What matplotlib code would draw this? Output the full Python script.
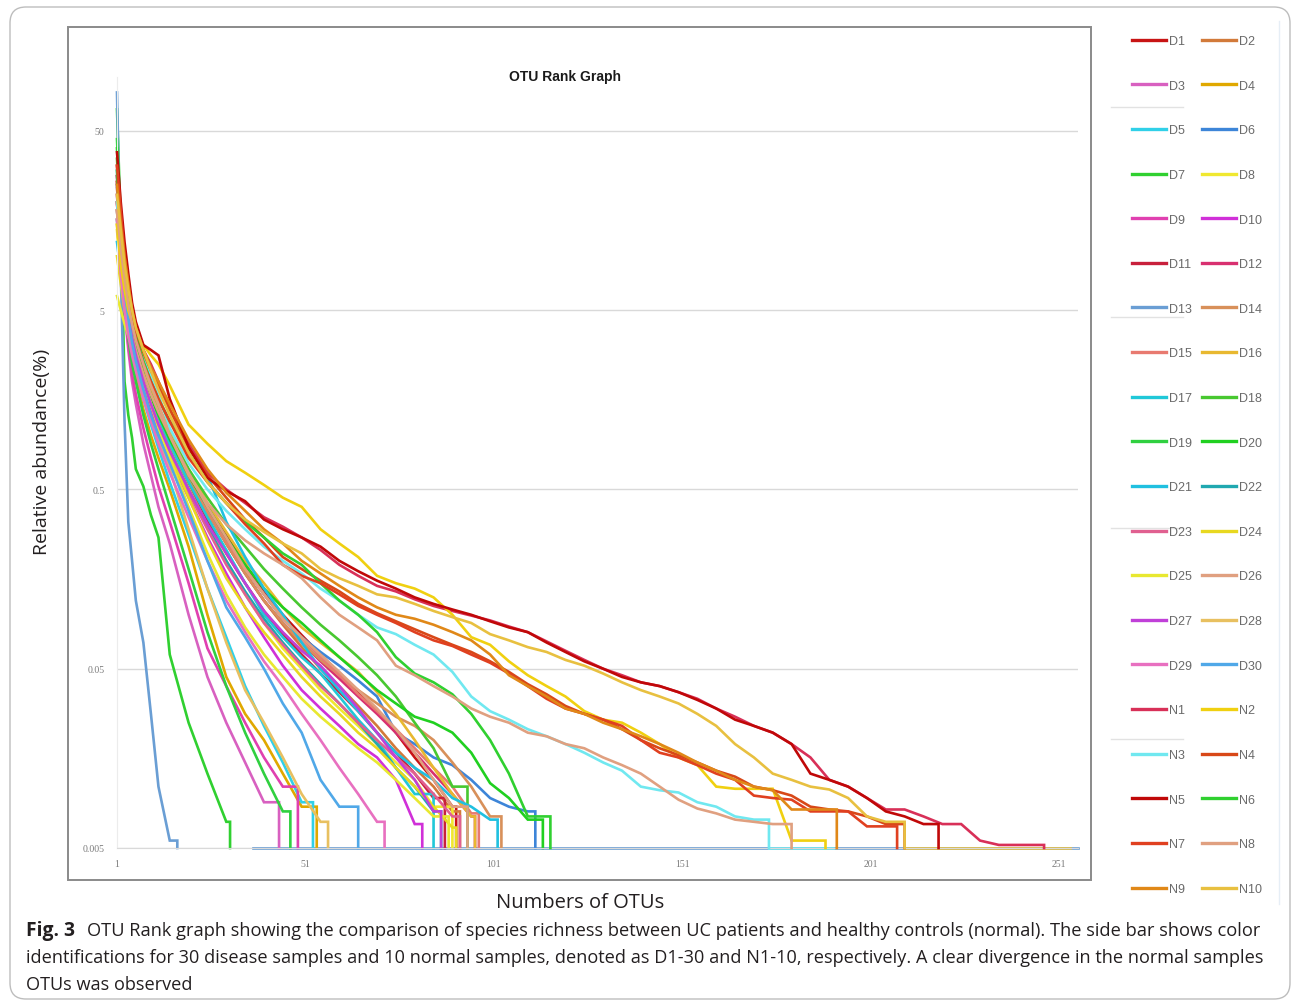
import matplotlib
matplotlib.use("Agg")
import matplotlib.pyplot as plt
from matplotlib.patches import FancyBboxPatch, Rectangle
from matplotlib.lines import Line2D

W, H = 1292, 1004

# OTU rank positions at which abundances were read
RANKS = [1, 2, 3, 4, 5, 6, 8, 10, 12, 15] + list(range(20, 256, 5))
FLOOR = 0.005

# ---- relative abundance (%) per sample, read at RANKS ----
D1 = [32, 15, 9, 6, 4.5, 3.6, 2.5, 1.9, 1.45, 1.05, 0.63, 0.41, 0.28, 0.19, 0.135, 0.1, 0.077, 0.06, 0.047, 0.037, 0.029, 0.022, 0.016, 0.012, 0.0085]
D2 = [28, 13, 8, 5.5, 4.2, 3.4, 2.4, 1.8, 1.4, 1.0, 0.6, 0.38, 0.25, 0.17, 0.12, 0.088, 0.066, 0.05, 0.04, 0.031, 0.024, 0.018, 0.014, 0.011, 0.008]
D3 = [25, 10, 5, 3, 2, 1.5, 0.9, 0.6, 0.4, 0.25, 0.1, 0.045, 0.025, 0.015, 0.009]
D4 = [15, 8, 5, 3.5, 2.6, 2.1, 1.4, 1.0, 0.75, 0.5, 0.24, 0.1, 0.045, 0.028, 0.02, 0.013, 0.0085]
D5 = [30, 12, 6, 4, 3, 2.4, 1.6, 1.15, 0.85, 0.55, 0.28, 0.14, 0.075, 0.04, 0.024, 0.015, 0.009]
D6 = [18, 10, 6.5, 4.8, 3.8, 3.1, 2.2, 1.7, 1.3, 0.95, 0.58, 0.38, 0.26, 0.18, 0.13, 0.095, 0.075, 0.062, 0.052, 0.043, 0.035, 0.022, 0.019, 0.016, 0.0145, 0.012, 0.0095, 0.0085, 0.008]
D7 = [66, 15, 2, 1.3, 0.97, 0.65, 0.52, 0.36, 0.27, 0.06, 0.025, 0.013, 0.007]
D8 = [14, 8, 5.5, 4, 3.2, 2.7, 2.0, 1.5, 1.2, 0.85, 0.52, 0.32, 0.2, 0.13, 0.09, 0.065, 0.05, 0.038, 0.03, 0.024, 0.019, 0.015, 0.012, 0.0085]
D9 = [20, 9, 5, 3.2, 2.2, 1.7, 1.1, 0.75, 0.52, 0.33, 0.15, 0.065, 0.04, 0.025, 0.016, 0.011]
D10 = [20, 10, 6, 4.2, 3.2, 2.6, 1.8, 1.35, 1.05, 0.75, 0.45, 0.27, 0.17, 0.11, 0.075, 0.052, 0.038, 0.03, 0.024, 0.019, 0.016, 0.012, 0.0068]
D11 = [26, 12, 7.5, 5.2, 4, 3.2, 2.3, 1.7, 1.3, 0.92, 0.55, 0.34, 0.22, 0.15, 0.105, 0.078, 0.06, 0.047, 0.037, 0.029, 0.022, 0.017, 0.013, 0.0095]
D12 = [20, 10, 6.5, 4.7, 3.7, 3.0, 2.2, 1.65, 1.3, 0.95, 0.58, 0.37, 0.25, 0.17, 0.12, 0.09, 0.07, 0.055, 0.044, 0.035, 0.028, 0.022, 0.017, 0.013, 0.01, 0.0075]
D13 = [82, 8, 1.2, 0.33, 0.2, 0.12, 0.07, 0.028, 0.011, 0.0055]
D14 = [22, 12, 7.5, 5.3, 4.1, 3.3, 2.3, 1.75, 1.35, 0.95, 0.58, 0.37, 0.25, 0.17, 0.12, 0.09, 0.07, 0.056, 0.046, 0.038, 0.032, 0.027, 0.024, 0.02, 0.015, 0.011, 0.0075]
D15 = [24, 11, 7, 5, 3.9, 3.2, 2.3, 1.75, 1.35, 0.98, 0.6, 0.39, 0.26, 0.18, 0.13, 0.096, 0.074, 0.058, 0.046, 0.036, 0.029, 0.023, 0.018, 0.014, 0.011, 0.0078]
D16 = [20, 11, 7, 5, 4, 3.3, 2.4, 1.85, 1.45, 1.05, 0.65, 0.42, 0.29, 0.2, 0.15, 0.11, 0.085, 0.07, 0.058, 0.048, 0.037, 0.028, 0.02, 0.014, 0.01, 0.0075]
D17 = [28, 12, 7, 5, 3.8, 3.0, 2.1, 1.6, 1.25, 0.9, 0.55, 0.35, 0.23, 0.15, 0.1, 0.075, 0.058, 0.047, 0.035, 0.026, 0.02, 0.014, 0.01]
D18 = [35, 14, 7.5, 5, 3.8, 3.1, 2.2, 1.7, 1.35, 1.0, 0.65, 0.45, 0.32, 0.24, 0.18, 0.14, 0.11, 0.088, 0.072, 0.058, 0.046, 0.035, 0.025, 0.018, 0.011]
D19 = [45, 15, 6, 3.5, 2.5, 2.0, 1.3, 0.9, 0.65, 0.4, 0.18, 0.08, 0.04, 0.022, 0.013, 0.008]
D20 = [40, 16, 8, 5.2, 3.9, 3.1, 2.2, 1.65, 1.3, 0.95, 0.6, 0.4, 0.27, 0.19, 0.14, 0.11, 0.09, 0.072, 0.058, 0.047, 0.038, 0.032, 0.027, 0.025, 0.022, 0.017, 0.0115, 0.0095, 0.0072]
D21 = [12, 8, 6, 4.8, 4.0, 3.5, 2.7, 2.1, 1.6, 1.2, 0.9, 0.6, 0.33, 0.21, 0.14, 0.1, 0.07, 0.05, 0.038, 0.029, 0.022, 0.017, 0.014, 0.012, 0.0095, 0.0085, 0.0072]
D22 = [16, 9, 6, 4.4, 3.4, 2.8, 2.0, 1.5, 1.15, 0.83, 0.5, 0.31, 0.2, 0.135, 0.095, 0.07, 0.053, 0.041, 0.032, 0.025, 0.019, 0.014, 0.011, 0.008]
D23 = [18, 9, 6, 4.3, 3.4, 2.8, 2.0, 1.5, 1.15, 0.82, 0.48, 0.3, 0.19, 0.13, 0.09, 0.068, 0.052, 0.04, 0.032, 0.025, 0.02, 0.016, 0.013, 0.01, 0.0075]
D24 = [10, 7, 5, 4, 3.3, 2.8, 2.0, 1.5, 1.15, 0.8, 0.45, 0.26, 0.16, 0.11, 0.08, 0.06, 0.045, 0.035, 0.028, 0.022, 0.018, 0.014, 0.011, 0.0085, 0.0065]
D25 = [6, 5, 4.2, 3.6, 3.1, 2.7, 2.0, 1.5, 1.1, 0.75, 0.4, 0.22, 0.13, 0.085, 0.06, 0.045, 0.034, 0.027, 0.022, 0.018, 0.015, 0.012, 0.0095, 0.0075]
D26 = [16, 9, 6, 4.5, 3.6, 3.0, 2.2, 1.7, 1.35, 1.0, 0.62, 0.4, 0.27, 0.18, 0.13, 0.095, 0.075, 0.06, 0.048, 0.038, 0.03, 0.023, 0.017, 0.012, 0.0085]
D27 = [22, 10, 6.5, 4.6, 3.5, 2.8, 2.0, 1.5, 1.15, 0.82, 0.5, 0.32, 0.22, 0.15, 0.105, 0.08, 0.063, 0.052, 0.04, 0.03, 0.022, 0.016, 0.012, 0.008]
D28 = [18, 9, 5.5, 4, 3, 2.5, 1.7, 1.25, 0.95, 0.65, 0.3, 0.14, 0.07, 0.038, 0.025, 0.016, 0.01, 0.007]
D29 = [16, 8, 5, 3.6, 2.8, 2.3, 1.6, 1.2, 0.9, 0.62, 0.35, 0.2, 0.12, 0.08, 0.055, 0.04, 0.028, 0.02, 0.014, 0.01, 0.007]
D30 = [25, 11, 6.5, 4.5, 3.3, 2.6, 1.8, 1.3, 1.0, 0.7, 0.38, 0.2, 0.11, 0.075, 0.05, 0.032, 0.022, 0.012, 0.0085]
N1 = [28, 16, 10, 7, 5, 4, 3.0, 2.5, 2.0, 1.4, 0.9, 0.62, 0.5, 0.42, 0.35, 0.31, 0.27, 0.23, 0.19, 0.165, 0.145, 0.135, 0.122, 0.112, 0.105, 0.099, 0.093, 0.086, 0.08, 0.071, 0.063, 0.056, 0.05, 0.046, 0.042, 0.04, 0.037, 0.034, 0.03, 0.027, 0.024, 0.022, 0.019, 0.016, 0.012, 0.011, 0.0095, 0.0082, 0.0082, 0.0075, 0.0068, 0.0068, 0.0055, 0.0052, 0.0052, 0.0052]
N2 = [15, 9, 6.5, 5, 4.3, 3.8, 3.2, 2.8, 2.5, 1.9, 1.15, 0.9, 0.72, 0.62, 0.53, 0.45, 0.4, 0.3, 0.25, 0.21, 0.165, 0.15, 0.14, 0.125, 0.1, 0.075, 0.068, 0.055, 0.046, 0.04, 0.035, 0.029, 0.026, 0.025, 0.022, 0.019, 0.016, 0.0145, 0.011, 0.0107, 0.0107, 0.0107, 0.0055, 0.0055]
N3 = [20, 13, 9, 6, 4.5, 3.8, 2.8, 2.2, 1.7, 1.1, 0.7, 0.5, 0.38, 0.3, 0.24, 0.2, 0.17, 0.14, 0.12, 0.1, 0.085, 0.078, 0.068, 0.06, 0.048, 0.035, 0.029, 0.026, 0.023, 0.021, 0.019, 0.017, 0.015, 0.0135, 0.011, 0.0105, 0.0102, 0.009, 0.0085, 0.0075, 0.0072]
N4 = [26, 15, 9, 6.5, 4.8, 3.8, 2.9, 2.3, 1.9, 1.4, 0.85, 0.6, 0.45, 0.34, 0.27, 0.21, 0.18, 0.155, 0.135, 0.115, 0.102, 0.092, 0.083, 0.075, 0.068, 0.062, 0.055, 0.048, 0.041, 0.036, 0.031, 0.028, 0.026, 0.023, 0.02, 0.018, 0.0165, 0.015, 0.0135, 0.0125, 0.011, 0.0105, 0.0098, 0.0085, 0.0082, 0.008, 0.0075, 0.0068]
N5 = [38, 20, 12, 8, 5.5, 4.3, 3.2, 3.0, 2.8, 1.6, 0.86, 0.58, 0.49, 0.43, 0.34, 0.3, 0.27, 0.24, 0.2, 0.175, 0.155, 0.14, 0.125, 0.115, 0.107, 0.1, 0.092, 0.085, 0.08, 0.07, 0.062, 0.055, 0.05, 0.045, 0.042, 0.04, 0.037, 0.0335, 0.03, 0.026, 0.024, 0.022, 0.019, 0.013, 0.012, 0.011, 0.0095, 0.008, 0.0075, 0.0068]
N6 = [30, 15, 9, 6, 4.5, 3.6, 2.6, 2.0, 1.6, 1.2, 0.8, 0.55, 0.42, 0.33, 0.27, 0.22, 0.19, 0.15, 0.12, 0.1, 0.08, 0.058, 0.047, 0.042, 0.036, 0.028, 0.02, 0.013, 0.0075, 0.0075]
N7 = [32, 18, 10, 7, 5, 3.5, 2.5, 2.0, 1.6, 1.2, 0.75, 0.55, 0.42, 0.32, 0.25, 0.19, 0.165, 0.15, 0.13, 0.112, 0.1, 0.09, 0.08, 0.072, 0.067, 0.06, 0.054, 0.047, 0.04, 0.034, 0.03, 0.028, 0.026, 0.024, 0.02, 0.017, 0.016, 0.0145, 0.013, 0.012, 0.0098, 0.0095, 0.0093, 0.008, 0.008, 0.008, 0.0066, 0.0066]
N8 = [18, 11, 7.5, 5.5, 4.2, 3.4, 2.5, 1.9, 1.5, 1.0, 0.6, 0.42, 0.32, 0.26, 0.22, 0.19, 0.16, 0.125, 0.1, 0.085, 0.072, 0.052, 0.046, 0.04, 0.035, 0.03, 0.027, 0.025, 0.022, 0.021, 0.019, 0.018, 0.016, 0.0145, 0.013, 0.011, 0.0093, 0.0083, 0.0078, 0.0072, 0.007, 0.0068]
N9 = [25, 15, 10, 7, 5, 4, 3, 2.4, 2, 1.5, 0.95, 0.65, 0.48, 0.38, 0.3, 0.25, 0.2, 0.17, 0.145, 0.125, 0.11, 0.1, 0.095, 0.088, 0.08, 0.072, 0.06, 0.046, 0.04, 0.035, 0.03, 0.028, 0.025, 0.023, 0.021, 0.019, 0.017, 0.015, 0.0135, 0.012, 0.011, 0.0105, 0.0082, 0.0082, 0.0082]
N10 = [22, 14, 9, 6.5, 5, 4, 3, 2.3, 1.8, 1.3, 0.8, 0.55, 0.42, 0.34, 0.29, 0.25, 0.22, 0.18, 0.16, 0.145, 0.13, 0.125, 0.115, 0.105, 0.097, 0.09, 0.078, 0.072, 0.066, 0.062, 0.056, 0.052, 0.047, 0.042, 0.038, 0.035, 0.032, 0.028, 0.024, 0.019, 0.016, 0.013, 0.012, 0.011, 0.0106, 0.0095, 0.0075, 0.007]

names = ["D%d" % i for i in range(1, 31)] + ["N%d" % i for i in range(1, 11)]
values = [D1, D2, D3, D4, D5, D6, D7, D8, D9, D10, D11, D12, D13, D14, D15,
          D16, D17, D18, D19, D20, D21, D22, D23, D24, D25, D26, D27, D28, D29, D30,
          N1, N2, N3, N4, N5, N6, N7, N8, N9, N10]
# rank at which each sample drops to the bottom of the axis
ends = [91, 92, 44, 54, 53, 112, 31, 90, 49, 82, 88, 96, 17, 103, 97,
        96, 85, 94, 47, 114, 102, 87, 92, 91, 89, 94, 87, 57, 72, 65,
        247, 189, 174, 210, 219, 116, 208, 180, 192, 210]
# samples running along the bottom of the axis (start rank, end rank)
floor_runs = {"D13": (37, 256), "N3": (174, 191), "N10": (210, 254)}

colors = ["#c81414", "#d27a3a", "#d860c0", "#e0a800", "#30d0e8", "#3d85d8",
          "#30d030", "#f0e830", "#e040b0", "#d030d8", "#c8203c", "#d83070",
          "#6a9ed4", "#d8905a", "#e87a70", "#e8b830", "#20c8d8", "#48c830",
          "#30d040", "#20d020", "#20c0e0", "#20a8b0", "#e06090", "#e8d820",
          "#e8e830", "#e0a080", "#c040d8", "#e8c060", "#e870c0", "#50a8e8",
          "#d83058", "#f0d010", "#70e8f0", "#d84818", "#c00808", "#30d030",
          "#e04020", "#e0a080", "#e08818", "#e8c040"]

x_ticks = [1, 51, 101, 151, 201, 251]
y_ticks = [0.005, 0.05, 0.5, 5, 50]
y_tick_labels = ["0.005", "0.05", "0.5", "5", "50"]

caption1_bold = "Fig. 3"
caption1 = ("OTU Rank graph showing the comparison of species richness between UC patients and "
            "healthy controls (normal). The side bar shows color")
caption2 = ("identifications for 30 disease samples and 10 normal samples, denoted as D1-30 and "
            "N1-10, respectively. A clear divergence in the normal samples")
caption3 = "OTUs was observed"

# ------------------------------------------------------------------
fig = plt.figure(figsize=(W / 100, H / 100), dpi=100)
fig.patch.set_facecolor("white")


def fx(px):
    return px / W


def fy(py):
    return 1 - py / H


# outer rounded frame
outer = FancyBboxPatch((fx(10), fy(1000)), fx(1290) - fx(10), fy(8) - fy(1000),
                       boxstyle="round,pad=0,rounding_size=%f" % (16 / W),
                       mutation_aspect=W / H, transform=fig.transFigure,
                       facecolor="none", edgecolor="#bdbdbd", linewidth=1.0, zorder=0)
fig.add_artist(outer)

# inner chart box
chart_box = Rectangle((fx(68), fy(881)), fx(1091) - fx(68), fy(28) - fy(881),
                      transform=fig.transFigure, facecolor="white",
                      edgecolor="#8a8a8a", linewidth=1.4, zorder=0)
fig.add_artist(chart_box)

ax = fig.add_axes([fx(117), fy(849), fx(1078) - fx(117), fy(78) - fy(849)])
ax.set_facecolor("white")
ax.set_yscale("log")
ax.set_xlim(1, 256)
ax.set_ylim(FLOOR, 100)

handles = {}
for i in range(40):
    v = values[i]
    xs = RANKS[:len(v)] + [ends[i], ends[i]]
    ys = v + [v[-1], FLOOR]
    ln, = ax.plot(xs, ys, color=colors[i], linewidth=1.9, solid_joinstyle="miter",
                  clip_on=False, zorder=3 if i >= 30 else 2)
    handles[names[i]] = ln
    if names[i] in floor_runs:
        a, b = floor_runs[names[i]]
        ax.plot([a, b], [FLOOR, FLOOR], color=colors[i], linewidth=1.9,
                clip_on=False, zorder=1.5)

ax.set_xticks(x_ticks)
ax.set_xticklabels([str(t) for t in x_ticks])
ax.set_yticks(y_ticks)
ax.set_yticklabels(y_tick_labels)
ax.minorticks_off()
ax.tick_params(axis="both", length=0, labelsize=7, labelcolor="#7a7a7a")
ax.tick_params(axis="y", pad=9)
ax.tick_params(axis="x", pad=8)
for lab in ax.get_xticklabels() + ax.get_yticklabels():
    lab.set_family("Liberation Serif")
ax.grid(axis="y", color="#d9d9d9", linewidth=1.0)
ax.set_axisbelow(True)
for s in ["top", "right"]:
    ax.spines[s].set_visible(False)
ax.spines["bottom"].set_color("#d9d9d9")
ax.spines["left"].set_color("#ececec")

fig.text(fx(565), fy(77), "OTU Rank Graph", ha="center", va="center",
         fontsize=10, fontweight="bold", family="Liberation Sans", color="#1a1a1a")

fig.text(fx(42), fy(452), "Relative abundance(%)", rotation=90, ha="center", va="center",
         fontsize=14, family="Open Sans", color="#231f20")
fig.text(fx(580), fy(903), "Numbers of OTUs", ha="center", va="center",
         fontsize=14.5, family="Open Sans", color="#231f20")

# legend (two columns, row-wise order D1 D2 / D3 D4 ...)
leg_names = names[0::2] + names[1::2]
leg = fig.legend([handles[n] for n in leg_names], leg_names, ncol=2,
                 loc="upper left", bbox_to_anchor=(fx(1132), fy(36)),
                 frameon=False, labelcolor="#6a6a6a",
                 handlelength=2.7, handletextpad=0.3, columnspacing=0.75,
                 labelspacing=2.61, borderpad=0, borderaxespad=0,
                 prop={"family": "Liberation Sans", "size": 9})
for lh in leg.get_lines():
    lh.set_linewidth(2.4)

# faint separator marks beside the legend
for yy in [108, 318, 529, 740]:
    fig.add_artist(Line2D([fx(1111), fx(1183)], [fy(yy), fy(yy)], transform=fig.transFigure,
                          color="#e2e2e2", linewidth=1.0))
fig.add_artist(Line2D([fx(1279), fx(1279)], [fy(22), fy(905)], transform=fig.transFigure,
                      color="#e6eef6", linewidth=1.0))

# caption
cb = fig.text(fx(26), fy(931), caption1_bold, ha="left", va="center", fontsize=12.5,
              fontweight="bold", family="Open Sans", color="#231f20")
c1 = fig.text(fx(87), fy(931), caption1, ha="left", va="center", fontsize=12.5,
              family="Open Sans", color="#231f20")
c2 = fig.text(fx(26), fy(958), caption2, ha="left", va="center", fontsize=12.5,
              family="Open Sans", color="#231f20")
c3 = fig.text(fx(26), fy(985), caption3, ha="left", va="center", fontsize=12.5,
              family="Open Sans", color="#231f20")

fig.canvas.draw()
r = fig.canvas.get_renderer()
w1 = c1.get_window_extent(r).width
c1.set_fontsize(12.5 * 1175 / w1)
w2 = c2.get_window_extent(r).width
fs2 = 12.5 * 1239 / w2
c2.set_fontsize(fs2)
c3.set_fontsize(fs2)
wb = cb.get_window_extent(r).width
cb.set_fontsize(12.5 * 49 / wb)

fig.savefig("out.png", dpi=100, facecolor="white")
